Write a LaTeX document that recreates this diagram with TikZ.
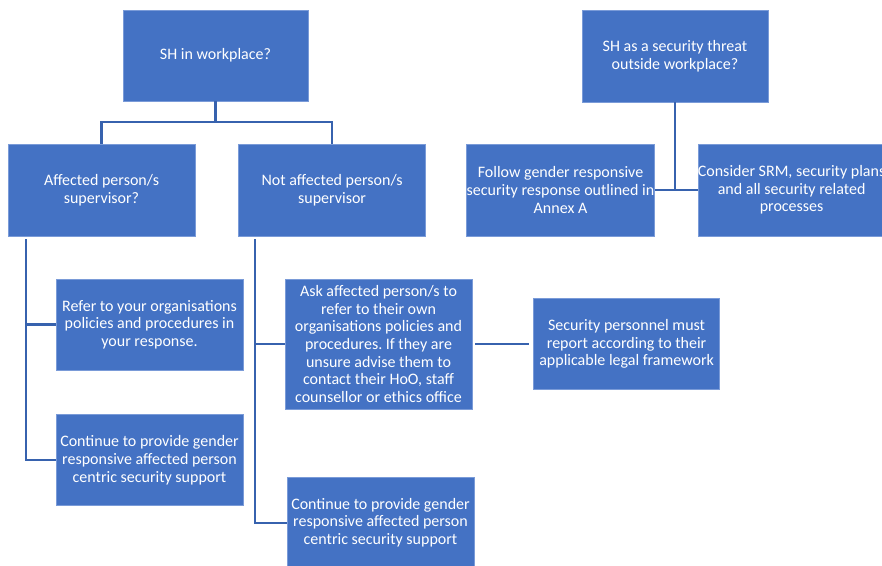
\documentclass[tikz,border=0pt]{standalone}
\usepackage{fontspec}
\setmainfont{Carlito}
\usepackage{xcolor}
\usepackage{tikz}
\usetikzlibrary{positioning}
\definecolor{boxblue}{HTML}{4472C4}
\definecolor{boxedge}{HTML}{7A9BD8}
\definecolor{linkblue}{HTML}{3762AE}

\begin{document}
\begin{tikzpicture}[x = 1pt, y = -1pt,
    box/.style = {rectangle, draw = boxedge, line width = 0.6pt, fill = boxblue, text = white, align = center,
        inner sep = 0pt, minimum width = 187pt, minimum height = 91pt, font = \fontsize{16}{17.7}\selectfont\frenchspacing},
    link/.style = {draw = linkblue, line width = 2.2pt}]
    \useasboundingbox (0,0) rectangle (882,565);

    \node[box, minimum width = 185pt] (sh) at (215.5,55.5) {SH in workplace?};
    \node[box, minimum height = 92pt] (aff) at (101.5,190) {Affected person/s\\supervisor?};
    \node[box, minimum height = 92pt, right = 43pt of aff] (naff) {Not affected person/s\\supervisor};

    \node[box, minimum width = 186pt, minimum height = 92pt] (threat) at (675,56) {SH as a security threat\\outside workplace?};
    \node[box, minimum height = 92pt] (follow) at (560.5,190) {Follow gender responsive\\security response outlined in\\Annex A};
    \node[box, minimum width = 186pt, minimum height = 92pt, right = 43pt of follow] (consider) {Consider SRM, security plans\\and all security related\\processes};

    \node[box] (refer) at (149.5,324.5) {Refer to your organisations\\policies and procedures in\\your response.};
    \node[box, below = 44pt of refer] (contaff) {Continue to provide gender\\responsive affected person\\centric security support};

    \node[box, minimum height = 130pt] (ask) at (378.5,344) {Ask affected person/s to\\refer to their own\\organisations policies and\\procedures. If they are\\unsure advise them to\\contact their HoO, staff\\counsellor or ethics office};
    \node[box, minimum height = 90pt, below = 68pt of ask, xshift = 2pt] (contnaff) {Continue to provide gender\\responsive affected person\\centric security support};
    \node[box, minimum width = 186pt, right = 61pt of ask] (secp) {Security personnel must\\report according to their\\applicable legal framework};

    \coordinate[below = 21pt of sh] (split);
    \coordinate (lspine) at (26,239);
    \coordinate (mspine) at (255,239);

    \draw[link] (sh.south) -- (split);
    \draw[link] (aff.north) |- (split) -| (naff.north);
    \draw[link] (lspine) |- (refer.west);
    \draw[link] (lspine) |- (contaff.west);
    \draw[link] (mspine) |- (ask.west);
    \draw[link] (mspine) |- (contnaff.west);
    \draw[link, shorten < = 3pt, shorten > = 4pt] (ask.east) -- (secp.west);
    \draw[link] (threat.south) -- (threat.south |- follow.east);
    \draw[link] (follow.east) -- (consider.west);
\end{tikzpicture}
\end{document}
